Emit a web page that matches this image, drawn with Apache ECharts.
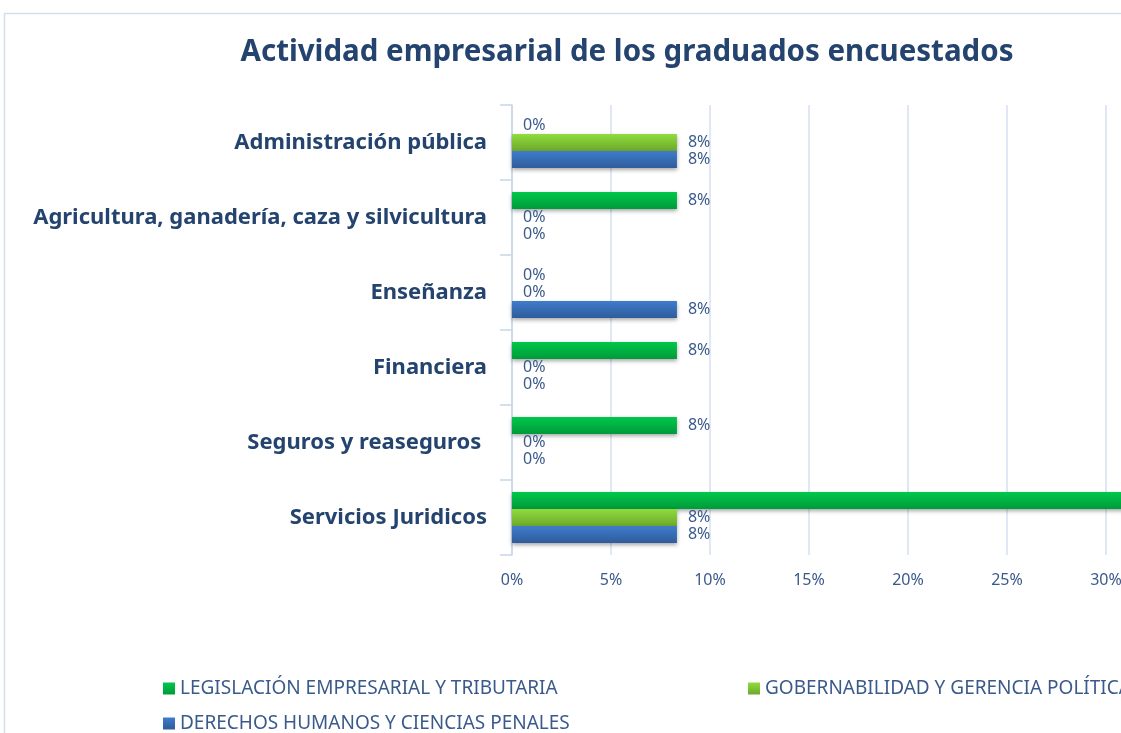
<!DOCTYPE html>
<html lang="es" style="height: 100%">
<head>
    <meta charset="UTF-8">
</head>
<body style="height: 100%; margin: 0">
  <div id="container" style="width: 1121px; height: 733px"></div>

  <script type="text/javascript" src="https://fastly.jsdelivr.net/npm/echarts@6/dist/echarts.min.js"></script>
  <script type="text/javascript">
    var categories = [
      'Administración pública',
      'Agricultura, ganadería, caza y silvicultura',
      'Enseñanza',
      'Financiera',
      'Seguros y reaseguros ',
      'Servicios Juridicos'
    ];
    var seriesNames = [
      'LEGISLACIÓN EMPRESARIAL Y TRIBUTARIA',
      'GOBERNABILIDAD Y GERENCIA POLÍTICA',
      'DERECHOS HUMANOS Y CIENCIAS PENALES'
    ];
    var legislacion = [0, 8.33, 0, 8.33, 8.33, 33.33];
    var gobernabilidad = [8.33, 0, 0, 0, 0, 8.33];
    var derechos = [8.33, 0, 8.33, 0, 0, 8.33];
    var xTicks = [0, 5, 10, 15, 20, 25, 30, 35];

    var font = 'Noto Sans';

    function grad(top, bottom) {
      return new echarts.graphic.LinearGradient(0, 0, 0, 1, [
        { offset: 0, color: top },
        { offset: 1, color: bottom }
      ]);
    }

    var colors = [
      grad('#00c84a', '#009a3a'),
      grad('#8fdc3e', '#6ea82c'),
      grad('#3f7ccc', '#2f5c9a')
    ];
    var legendColors = ['#00b050', '#92d050', '#4472c4'];

    function makeSeries(name, data, i) {
      return {
        name: name,
        type: 'bar',
        data: data,
        barGap: '0%',
        barCategoryGap: '32%',
        itemStyle: {
          color: colors[i],
          shadowColor: 'rgba(0,0,0,0.35)',
          shadowBlur: 4,
          shadowOffsetY: 2
        },
        label: {
          show: true,
          position: 'right',
          distance: 11,
          color: '#3a5a8c',
          fontFamily: font,
          fontSize: 16,
          lineHeight: 16,
          formatter: function (p) { return Math.round(p.value) + '%'; }
        }
      };
    }

    var dom = document.getElementById('container');
    var myChart = echarts.init(dom, null, { renderer: 'canvas' });

    var option = {
      backgroundColor: '#ffffff',
      color: legendColors,
      animation: false,
      title: {
        text: 'Actividad empresarial de los graduados encuestados',
        left: 622,
        textAlign: 'center',
        top: 33,
        textStyle: {
          fontFamily: font,
          fontWeight: 'bold',
          fontSize: 29.5,
          color: '#24446f'
        }
      },
      graphic: [{
        type: 'rect',
        shape: { x: 4.5, y: 13.5, width: 1300, height: 900 },
        style: { fill: 'none', stroke: '#d3deee', lineWidth: 1.5 },
        z: -1
      }],
      legend: [0, 1, 2].map(function (i) {
        var pos = [[158, 674], [743, 674], [158, 709]][i];
        return {
          data: [seriesNames[i]],
          left: pos[0],
          top: pos[1],
          icon: 'rect',
          itemWidth: 12,
          itemHeight: 12,
          itemGap: 6,
          textStyle: { fontFamily: font, fontSize: 19, color: '#3a5a8c' }
        };
      }),
      grid: { left: 512, top: 105, height: 450, width: 693, outerBoundsMode: 'none', containLabel: false },
      xAxis: {
        type: 'value',
        min: xTicks[0],
        max: xTicks[xTicks.length - 1],
        interval: xTicks[1] - xTicks[0],
        axisLine: { show: false },
        axisTick: { show: false },
        splitLine: { lineStyle: { color: '#d5e1f1', width: 1.5 } },
        axisLabel: {
          margin: 17,
          fontFamily: font,
          fontSize: 16,
          color: '#3a5a8c',
          formatter: '{value}%'
        }
      },
      yAxis: {
        type: 'category',
        data: categories,
        inverse: true,
        axisLine: { lineStyle: { color: '#c7d6ea', width: 1.5 } },
        axisTick: { show: true, length: 12, lineStyle: { color: '#c7d6ea', width: 1.5 } },
        axisLabel: {
          margin: 25,
          fontFamily: font,
          fontWeight: 'bold',
          fontSize: 22,
          color: '#24446f'
        }
      },
      series: [
        makeSeries(seriesNames[0], legislacion, 0),
        makeSeries(seriesNames[1], gobernabilidad, 1),
        makeSeries(seriesNames[2], derechos, 2)
      ]
    };

    myChart.setOption(option);
    window.addEventListener('resize', myChart.resize);
  </script>
</body>
</html>
